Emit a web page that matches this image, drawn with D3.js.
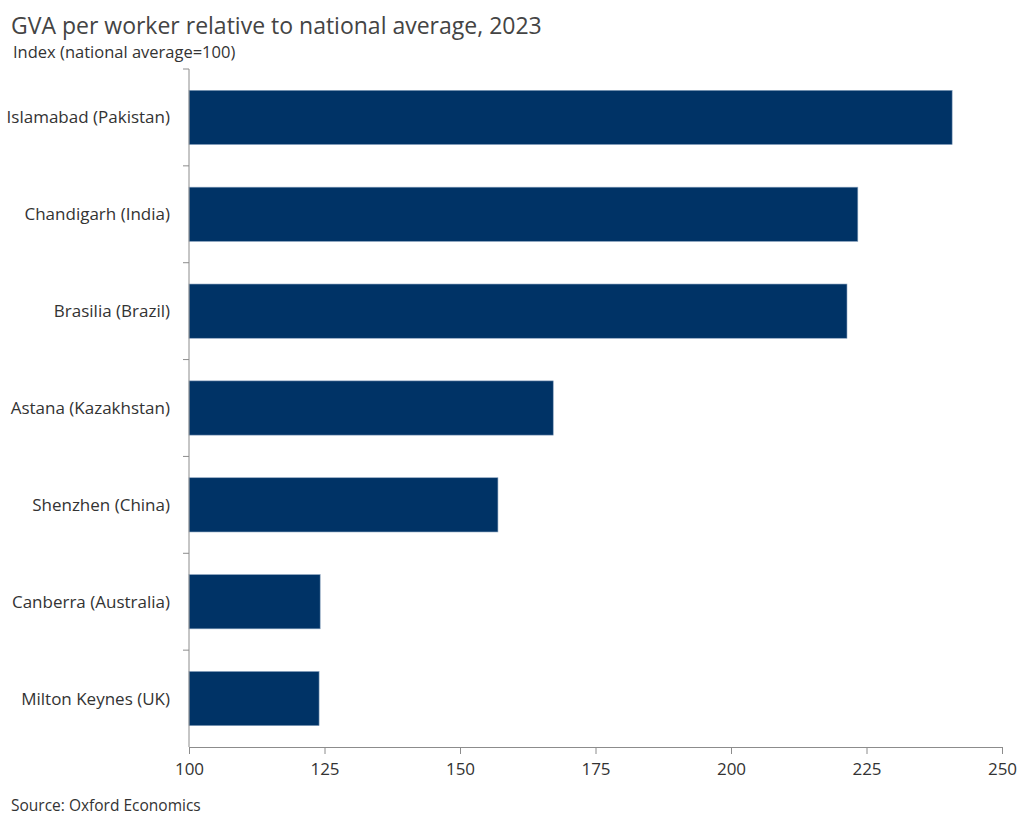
<!DOCTYPE html>
<html>
<head>
<meta charset="utf-8">
<script src="https://cdn.jsdelivr.net/npm/d3@7"></script>
<style>
  body { margin: 0; background: #fff; }
  svg text { font-family: "Open Sans", "Noto Sans", sans-serif; }
</style>
</head>
<body>
<svg id="chart" width="1024" height="818"></svg>
<script>
// Data
const cities = [
  "Islamabad (Pakistan)",
  "Chandigarh (India)",
  "Brasilia (Brazil)",
  "Astana (Kazakhstan)",
  "Shenzhen (China)",
  "Canberra (Australia)",
  "Milton Keynes (UK)"
];
const gvaIndex = [240.8, 223.4, 221.4, 167.2, 157.0, 124.2, 124.0];
const xTicks = [100, 125, 150, 175, 200, 225, 250];

const svg = d3.select("#chart");
const margin = { top: 69, right: 22, bottom: 71, left: 189 };
const width = 1024 - margin.left - margin.right;
const height = 818 - margin.top - margin.bottom;

const data = cities.map((c, i) => ({ city: c, value: gvaIndex[i] }));

const x = d3.scaleLinear().domain([100, 250]).range([0, width]);
const y = d3.scaleBand().domain(cities).range([0, height]).paddingInner(0.44).paddingOuter(0.22);

const g = svg.append("g").attr("transform", `translate(${margin.left},${margin.top})`);

// Bars
g.selectAll(".bar")
  .data(data)
  .enter()
  .append("rect")
  .attr("class", "bar")
  .attr("x", 0)
  .attr("y", d => y(d.city))
  .attr("width", d => x(d.value) - x(100))
  .attr("height", y.bandwidth())
  .attr("fill", "#003366")
  .attr("stroke", "#8aa3bf")
  .attr("stroke-width", 0.6);

// x-axis
const xAxis = g.append("g")
  .attr("transform", `translate(0,${height})`)
  .call(d3.axisBottom(x).tickValues(xTicks).tickSize(7).tickPadding(9).tickSizeOuter(0));
xAxis.selectAll("text").style("font-size", "17px").attr("fill", "#333");
xAxis.selectAll(".domain, .tick line").attr("stroke", "#8c8c8c");

// y-axis: line plus ticks at band boundaries
const bounds = d3.range(cities.length).map(i => i * height / cities.length);
g.append("line")
  .attr("x1", 0).attr("x2", 0)
  .attr("y1", 0).attr("y2", height)
  .attr("stroke", "#8c8c8c");
g.selectAll(".ytick")
  .data(bounds)
  .enter()
  .append("line")
  .attr("x1", -6).attr("x2", 0)
  .attr("y1", d => d).attr("y2", d => d)
  .attr("stroke", "#8c8c8c");

g.selectAll(".ylabel")
  .data(cities)
  .enter()
  .append("text")
  .attr("x", -19)
  .attr("y", d => y(d) + y.bandwidth() / 2)
  .attr("dy", "0.35em")
  .attr("text-anchor", "end")
  .style("font-size", "17px")
  .attr("fill", "#333")
  .text(d => d);

// Titles
svg.append("text")
  .attr("x", 11).attr("y", 34)
  .style("font-size", "23px")
  .attr("fill", "#444")
  .text("GVA per worker relative to national average, 2023");

svg.append("text")
  .attr("x", 13).attr("y", 58)
  .style("font-size", "16.5px")
  .attr("fill", "#333")
  .text("Index (national average=100)");

svg.append("text")
  .attr("x", 11).attr("y", 811)
  .style("font-size", "15.5px")
  .attr("fill", "#333")
  .text("Source: Oxford Economics");
</script>
</body>
</html>
